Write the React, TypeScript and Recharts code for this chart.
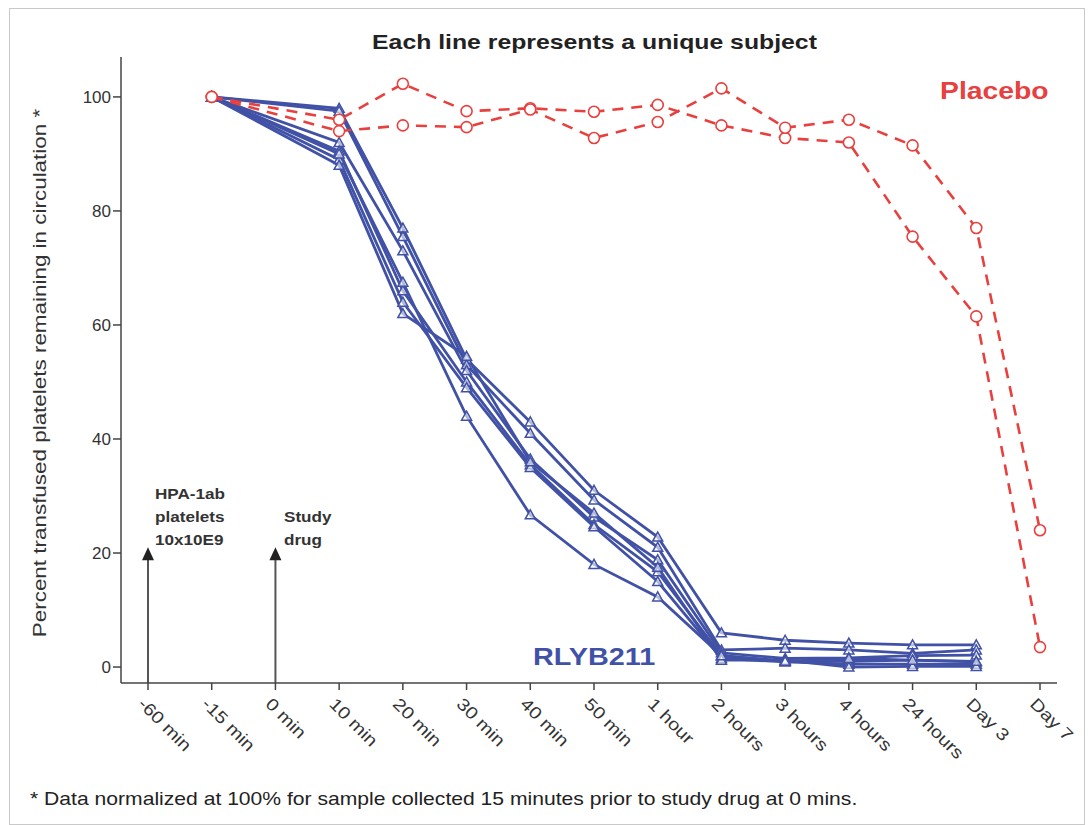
import { LineChart, Line, XAxis, YAxis, ReferenceLine } from "recharts";

// x categories (time points)
const categories = [
  "-60 min", "-15 min", "0 min", "10 min", "20 min", "30 min", "40 min",
  "50 min", "1 hour", "2 hours", "3 hours", "4 hours", "24 hours", "Day 3", "Day 7",
];

// Placebo subjects (null = no sample)
const placeboA = [null, 100, null, 96, 102.3, 97.5, 98, 97.4, 98.6, 95, 92.8, 92, 75.5, 61.5, 3.5];
const placeboB = [null, 100, null, 94, 95, 94.7, 97.8, 92.8, 95.6, 101.5, 94.6, 96, 91.5, 77, 24];

// RLYB211 subjects
const rlyb1 = [null, 100, null, 98, 77, 54, 43, 31, 22.8, 6, 4.7, 4.2, 3.9, 3.9, null];
const rlyb2 = [null, 100, null, 97.5, 75.5, 53, 41, 29.3, 21, 3, 3.3, 3, 2.4, 3, null];
const rlyb3 = [null, 100, null, 92, 73, 52, 36.5, 26.3, 18.8, 2.5, 1.5, 1.6, 2, 2.1, null];
const rlyb4 = [null, 100, null, 90.5, 66, 50, 35.5, 25, 16.7, 2, 1, 1, 1.2, 0.9, null];
const rlyb5 = [null, 100, null, 89, 64, 49, 35, 24.6, 15, 1.5, 0.9, 0.5, 0.5, 0.5, null];
const rlyb6 = [null, 100, null, 88, 62, 54.5, 36, 27, 17.5, 1.2, 1.2, 0, 0.1, 0.1, null];
const rlyb7 = [null, 100, null, 90, 67.5, 44, 26.7, 18, 12.3, 2, 1, 1.5, 1.2, 1, null];

const yTicks = [0, 20, 40, 60, 80, 100];

const rlybSeries = [rlyb1, rlyb2, rlyb3, rlyb4, rlyb5, rlyb6, rlyb7];
const placeboSeries = [placeboA, placeboB];

const data = categories.map((cat, i) => {
  const row: Record<string, string | number | null> = { cat };
  rlybSeries.forEach((s, k) => (row["r" + k] = s[i]));
  placeboSeries.forEach((s, k) => (row["p" + k] = s[i]));
  return row;
});

const BLUE = "#4152a6";
const RED = "#e8403e";
const FONT = "'Liberation Sans', Arial, sans-serif";
// the original's lettering is a little wider than Arial
const WIDE = 1.18;

function TriangleDot(props: any) {
  const { cx, cy, index } = props;
  if (cx == null || cy == null) return <g key={index} />;
  const s = 5;
  return (
    <path
      key={index}
      d={`M${cx},${cy - s} L${cx + s},${cy + s * 0.8} L${cx - s},${cy + s * 0.8} Z`}
      fill="white"
      fillOpacity={0.6}
      stroke={BLUE}
      strokeWidth={1.5}
    />
  );
}

function CircleDot(props: any) {
  const { cx, cy, index } = props;
  if (cx == null || cy == null) return <g key={index} />;
  return <circle key={index} cx={cx} cy={cy} r={5.5} fill="white" stroke={RED} strokeWidth={1.6} />;
}

function XTick(props: any) {
  const { x, y, payload } = props;
  const ax = x - 11;
  const ay = y + 13;
  return (
    <text
      x={0}
      y={0}
      transform={`translate(${ax}, ${ay}) rotate(45) scale(${WIDE}, 1)`}
      textAnchor="start"
      fontSize={17}
      fill="#333"
      fontFamily={FONT}
    >
      {payload.value}
    </text>
  );
}

function Arrow(props: any) {
  const { x1, y1, x2, y2 } = props;
  const top = Math.min(y1, y2);
  const bottom = Math.max(y1, y2);
  return (
    <g>
      <line x1={x1} y1={bottom} x2={x2} y2={top + 10} stroke="#555" strokeWidth={2} />
      <path d={`M${x1},${top} L${x1 + 6},${top + 13} L${x1 - 6},${top + 13} Z`} fill="#222" />
    </g>
  );
}

const wide = (origin = "left"): React.CSSProperties => ({
  transform: `scaleX(${WIDE})`,
  transformOrigin: origin,
  whiteSpace: "nowrap",
});

export default function App() {
  return (
    <div style={{ position: "absolute", left: 0, top: 0, width: 1088, height: 825, background: "white", fontFamily: FONT }}>
      <div style={{ position: "absolute", left: 9, top: 8, width: 1074, height: 815, border: "1px solid #c9c9c9" }} />
      <LineChart
        width={1088}
        height={825}
        data={data}
        margin={{ top: 57, right: 31, left: 61, bottom: 62 }}
      >
        <XAxis
          dataKey="cat"
          interval={0}
          padding={{ left: 27, right: 17 }}
          tick={<XTick />}
          tickSize={7}
          height={80}
          axisLine={{ stroke: "#444", strokeWidth: 1.5 }}
          tickLine={{ stroke: "#444", strokeWidth: 1.5 }}
        />
        <YAxis
          domain={[-2.8, 107]}
          ticks={yTicks}
          width={60}
          tickSize={8}
          tick={{ fontSize: 17, fill: "#333", fontFamily: FONT }}
          axisLine={{ stroke: "#444", strokeWidth: 1.5 }}
          tickLine={{ stroke: "#444", strokeWidth: 1.5 }}
        />
        <ReferenceLine segment={[{ x: "-60 min", y: -2.8 }, { x: "-60 min", y: 21 }]} shape={<Arrow />} ifOverflow="visible" />
        <ReferenceLine segment={[{ x: "0 min", y: -2.8 }, { x: "0 min", y: 21 }]} shape={<Arrow />} ifOverflow="visible" />
        {rlybSeries.map((_, k) => (
          <Line
            key={"r" + k}
            dataKey={"r" + k}
            type="linear"
            stroke={BLUE}
            strokeWidth={2.8}
            dot={<TriangleDot />}
            connectNulls
            isAnimationActive={false}
          />
        ))}
        {placeboSeries.map((_, k) => (
          <Line
            key={"p" + k}
            dataKey={"p" + k}
            type="linear"
            stroke={RED}
            strokeWidth={2.6}
            strokeDasharray="11 8"
            dot={<CircleDot />}
            connectNulls
            isAnimationActive={false}
          />
        ))}
      </LineChart>

      <div style={{ position: "absolute", left: 0, width: 1188, top: 30, textAlign: "center" }}>
        <div style={{ display: "inline-block", fontSize: 21, fontWeight: "bold", color: "#222", ...wide("center") }}>
          Each line represents a unique subject
        </div>
      </div>
      <div
        style={{
          position: "absolute", left: -260, top: 362, width: 600, textAlign: "center",
          fontSize: 19, color: "#333", transform: `rotate(-90deg) scaleX(${WIDE})`, whiteSpace: "nowrap",
        }}
      >
        Percent transfused platelets remaining in circulation *
      </div>
      <div style={{ position: "absolute", left: 940, top: 77, fontSize: 24, fontWeight: "bold", color: RED, ...wide() }}>Placebo</div>
      <div style={{ position: "absolute", left: 533, top: 643, fontSize: 24, fontWeight: "bold", color: BLUE, transform: "scaleX(1.2)", transformOrigin: "left" }}>RLYB211</div>
      <div style={{ position: "absolute", left: 155, top: 483, fontSize: 14.5, fontWeight: "bold", color: "#333", lineHeight: "23px", ...wide() }}>
        HPA-1ab<br />platelets<br />10x10E9
      </div>
      <div style={{ position: "absolute", left: 284, top: 506, fontSize: 14.5, fontWeight: "bold", color: "#333", lineHeight: "23px", ...wide() }}>
        Study<br />drug
      </div>
      <div style={{ position: "absolute", left: 30, top: 789, fontSize: 17.9, color: "#222", ...wide() }}>
        * Data normalized at 100% for sample collected 15 minutes prior to study drug at 0 mins.
      </div>
    </div>
  );
}
